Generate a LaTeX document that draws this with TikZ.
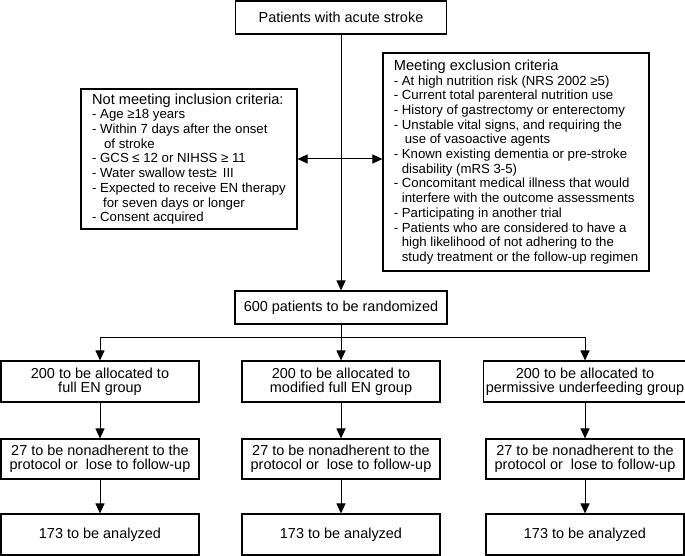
\documentclass[tikz,border=0pt]{standalone}
\usepackage{fontspec}
\setmainfont{Liberation Sans}
\usetikzlibrary{arrows.meta, positioning}

\newcommand{\listfont}{\fontsize{13.25}{14.75}\selectfont}
\newcommand{\headfont}{\fontsize{14.65}{14.75}\selectfont}
\newcommand{\contd}[1]{\hspace*{#1bp}}

\begin{document}
\begin{tikzpicture}[x=1bp, y=-1bp,
  box/.style={draw, line width=1.1bp, inner sep=2bp, align=center, font=\fontsize{14.5}{14.5}\selectfont},
  listbox/.style={draw, line width=1.1bp, inner xsep=10bp, inner ysep=2bp, align=left, font=\listfont},
  arr/.style={-{Triangle[length=10bp, width=9bp]}, line width=1bp},
  link/.style={line width=1bp}]
  \useasboundingbox (0,0) rectangle (685,556);

  % screening
  \node[box, minimum width=211bp, minimum height=33bp] (start) at (341,17.5) {Patients with acute stroke};

  \node[listbox, minimum width=216bp, minimum height=140bp] (incl) at (189,159) {%
    {\headfont Not meeting inclusion criteria:}\\
    - Age ≥18 years\\
    - Within 7 days after the onset\\
    \contd{12}of stroke\\
    - GCS ≤ 12 or NIHSS ≥ 11\\
    - Water swallow test≥ \,III\\
    - Expected to receive EN therapy\\
    \contd{11}for seven days or longer\\
    - Consent acquired};

  \node[listbox, minimum width=266bp, minimum height=218bp] (excl) at (516,162) {%
    {\headfont Meeting exclusion criteria}\\
    - At high nutrition risk (NRS 2002 ≥5)\\
    - Current total parenteral nutrition use\\
    - History of gastrectomy or enterectomy\\
    - Unstable vital signs, and requiring the\\
    \contd{11}use of vasoactive agents\\
    - Known existing dementia or pre-stroke\\
    \contd{8}disability (mRS 3-5)\\
    - Concomitant medical illness that would\\
    \contd{8}interfere with the outcome assessments\\
    - Participating in another trial\\
    - Patients who are considered to have a\\
    \contd{8}high likelihood of not adhering to the\\
    \contd{8}study treatment or the follow-up regimen};

  \node[box, minimum width=212bp, minimum height=33bp] (rand) at (341,307.5) {600 patients to be randomized};

  \draw[arr] (start.south) -- (rand.north);
  \draw[{Triangle[length=10bp, width=9bp]}-{Triangle[length=10bp, width=9bp]}, line width=1bp]
    (incl.east) -- (incl.east -| excl.west);

  % three arms
  \foreach \x/\c/\grp in {100/A/full EN group, 341/B/modified full EN group, 585/C/permissive underfeeding group} {
    \node[box, minimum width=198bp, minimum height=41bp] (g\c) at (\x,381.5) {200 to be allocated to\\\grp};
    \node[box, minimum width=198bp, minimum height=40bp] (n\c) at (\x,459) {27 to be nonadherent to the\\protocol or\ \ lose to follow-up};
    \node[box, minimum width=198bp, minimum height=41bp] (a\c) at (\x,534.5) {173 to be analyzed};
    \draw[arr] (g\c.south) -- (n\c.north);
    \draw[arr] (n\c.south) -- (a\c.north);
  }

  \coordinate (split) at (341,337);
  \draw[link] (rand.south) -- (split);
  \draw[arr] (split) -| (gA.north);
  \draw[arr] (split) -- (gB.north);
  \draw[arr] (split) -| (gC.north);
\end{tikzpicture}
\end{document}
